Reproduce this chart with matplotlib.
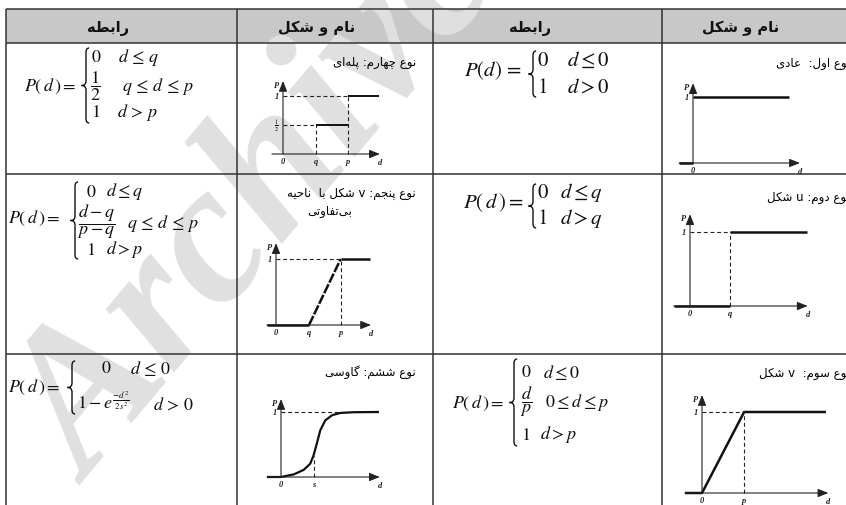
import matplotlib
matplotlib.use("Agg")
import matplotlib.pyplot as plt
import numpy as np
from matplotlib.patches import Rectangle, PathPatch
from matplotlib.path import Path

plt.rcParams["mathtext.fontset"] = "stix"
plt.rcParams["font.family"] = ["DejaVu Sans"]

W, H = 846, 506
nan = np.nan

# ---- data ----
header_relation = "رابطه"
header_shape = "نام و شکل"

name_type1 = "نوع اول:  عادی"
name_type2 = "نوع دوم: u شکل"
name_type3 = "نوع سوم:  v شکل"
name_type4 = "نوع چهارم: پله\u200cای"
name_type5 = ["نوع پنجم: v شکل با  ناحیه", "بی\u200cتفاوتی"]
name_type6 = "نوع ششم: گاوسی"

# curves, in units where the upper level is 1
t1_x = [-0.21, 0.0, nan, 0.0, 1.45]
t1_y = [0, 0, nan, 1, 1]

t2_q = 0.54
t2_x = [-0.22, t2_q, nan, t2_q, 1.58]
t2_y = [0, 0, nan, 1, 1]

t3_p = 0.52
t3_x = [-0.21, 0.0, t3_p, 1.53]
t3_y = [0, 0, 1, 1]

t4_q, t4_p = 0.57, 1.12
t4_x = [t4_q, t4_p, nan, t4_p, 1.66]
t4_y = [0.5, 0.5, nan, 1, 1]

t5_q, t5_p = 0.50, 0.98
t5_x = [-0.14, t5_q, nan, t5_p, 1.42]
t5_y = [0, 0, nan, 1, 1]

t6_s = 0.50
t6_x = [-0.20, 0.0, 0.195, 0.35, 0.45, 0.50, 0.55, 0.605, 0.68, 0.785, 0.91, 1.12, 1.49]
t6_y = [0, 0, 0.04, 0.11, 0.205, 0.33, 0.51, 0.72, 0.87, 0.95, 0.985, 0.997, 1.0]

# ---- Persian shaping (presentation forms + visual order) ----
FORMS = {
    "ا": ("\uFE8D", "\uFE8E", None, None),
    "ب": ("\uFE8F", "\uFE90", "\uFE91", "\uFE92"),
    "پ": ("\uFB56", "\uFB57", "\uFB58", "\uFB59"),
    "ت": ("\uFE95", "\uFE96", "\uFE97", "\uFE98"),
    "ج": ("\uFE9D", "\uFE9E", "\uFE9F", "\uFEA0"),
    "چ": ("\uFB7A", "\uFB7B", "\uFB7C", "\uFB7D"),
    "ح": ("\uFEA1", "\uFEA2", "\uFEA3", "\uFEA4"),
    "د": ("\uFEA9", "\uFEAA", None, None),
    "ر": ("\uFEAD", "\uFEAE", None, None),
    "س": ("\uFEB1", "\uFEB2", "\uFEB3", "\uFEB4"),
    "ش": ("\uFEB5", "\uFEB6", "\uFEB7", "\uFEB8"),
    "ط": ("\uFEC1", "\uFEC2", "\uFEC3", "\uFEC4"),
    "ع": ("\uFEC9", "\uFECA", "\uFECB", "\uFECC"),
    "ف": ("\uFED1", "\uFED2", "\uFED3", "\uFED4"),
    "ک": ("\uFB8E", "\uFB8F", "\uFB90", "\uFB91"),
    "گ": ("\uFB92", "\uFB93", "\uFB94", "\uFB95"),
    "ل": ("\uFEDD", "\uFEDE", "\uFEDF", "\uFEE0"),
    "م": ("\uFEE1", "\uFEE2", "\uFEE3", "\uFEE4"),
    "ن": ("\uFEE5", "\uFEE6", "\uFEE7", "\uFEE8"),
    "ه": ("\uFEE9", "\uFEEA", "\uFEEB", "\uFEEC"),
    "و": ("\uFEED", "\uFEEE", None, None),
    "ی": ("\uFBFC", "\uFBFD", "\uFBFE", "\uFBFF"),
}


def fa(text):
    out = []
    for i, ch in enumerate(text):
        if ch == "\u200c":
            continue
        if ch not in FORMS:
            out.append(ch)
            continue
        prev = text[i - 1] if i > 0 else ""
        nxt = text[i + 1] if i < len(text) - 1 else ""
        jp = prev in FORMS and FORMS[prev][2] is not None
        jn = FORMS[ch][2] is not None and nxt in FORMS
        f = FORMS[ch]
        out.append(f[3] if jp and jn else f[1] if jp else f[2] if jn else f[0])
    return "".join(reversed(out))


fig = plt.figure(figsize=(W / 100, H / 100), dpi=100)
ax = fig.add_axes([0, 0, 1, 1])
ax.set_xlim(0, W)
ax.set_ylim(H, 0)
ax.axis("off")

LINE = "#333333"

# header band, watermark, grid
ax.add_patch(Rectangle((6, 9.5), 850, 34, facecolor="#c8c8c8", edgecolor="none", zorder=0))
ax.text(90, 486, "Archive", rotation=50, rotation_mode="anchor", ha="left", va="baseline",
        fontsize=145, family="Liberation Serif", weight="bold", style="italic",
        color="#e0e0e0", zorder=1)
for y in [9.5, 43.5, 174.5, 355]:
    ax.plot([6, W], [y, y], color=LINE, lw=1.1, zorder=3, solid_capstyle="butt")
for x in [6, 237, 433, 662]:
    ax.plot([x, x], [9.5, H], color=LINE, lw=1.1, zorder=3, solid_capstyle="butt")

# headers
for x, s in [(108, header_relation), (317, header_shape), (530, header_relation), (741, header_shape)]:
    ax.text(x, 28, fa(s), ha="center", va="center", fontsize=10.5, weight="bold", color="#111111", zorder=4)

# names
pfs = 8.5
ax.text(416, 62, fa(name_type4), ha="right", va="center", fontsize=pfs, zorder=4)
ax.text(416, 193, fa(name_type5[0]), ha="right", va="center", fontsize=pfs, zorder=4)
ax.text(330, 212, fa(name_type5[1]), ha="center", va="center", fontsize=pfs, zorder=4)
ax.text(416, 372, fa(name_type6), ha="right", va="center", fontsize=pfs, zorder=4)
ax.text(850, 63, fa(name_type1), ha="right", va="center", fontsize=pfs, zorder=4)
ax.text(850, 197, fa(name_type2), ha="right", va="center", fontsize=pfs, zorder=4)
ax.text(850, 373, fa(name_type3), ha="right", va="center", fontsize=pfs, zorder=4)


def brace(x, y0, y1, w=4.5):
    ym = (y0 + y1) / 2
    verts = [(x + w * 0.7, y0), (x, y0), (x, y0 + w),
             (x, ym - w), (x, ym), (x - w, ym),
             (x, ym), (x, ym + w),
             (x, y1 - w), (x, y1), (x + w * 0.7, y1)]
    codes = [Path.MOVETO, Path.CURVE3, Path.CURVE3,
             Path.LINETO, Path.CURVE3, Path.CURVE3,
             Path.CURVE3, Path.CURVE3,
             Path.LINETO, Path.CURVE3, Path.CURVE3]
    ax.add_patch(PathPatch(Path(verts, codes), fill=False, lw=1.0, color="#111111", zorder=4))


def m(x, y, s, fs=13, va="center"):
    ax.text(x, y, s, ha="left", va=va, fontsize=fs, color="#111111", zorder=4)


# row 1, relation of type 4
m(24, 86, r"$P(\,d\,)=$")
brace(86, 49, 124)
m(91, 57, r"$0$")
m(118, 57, r"$d\,\leq\,q$")
m(90, 86, r"$\dfrac{1}{2}$")
m(122, 86, r"$q\,\leq\,d\,\leq\,p$")
m(91, 112, r"$1$")
m(117, 112, r"$d\,>\,p$")

# row 1, relation of type 1
m(464, 71, r"$P(d)\,=$", fs=15)
brace(533, 52, 98)
m(537, 60, r"$0$", fs=15)
m(567, 60, r"$d \leq 0$", fs=15)
m(537, 87, r"$1$", fs=15)
m(567, 87, r"$d > 0$", fs=15)

# row 2, relation of type 5
m(8, 218, r"$P(\,d\,)=$")
brace(75, 183, 260)
m(86, 192, r"$0$")
m(106, 192, r"$d \leq q$")
m(77, 222, r"$\dfrac{d-q}{p-q}$")
m(127, 223, r"$q\,\leq\,d\,\leq\,p$")
m(86, 250, r"$1$")
m(106, 250, r"$d > p$")

# row 2, relation of type 2
m(463, 203, r"$P(\,d\,)=$", fs=15)
brace(533, 185, 229)
m(537, 192, r"$0$", fs=15)
m(560, 192, r"$d \leq q$", fs=15)
m(537, 218, r"$1$", fs=15)
m(560, 218, r"$d > q$", fs=15)

# row 3, relation of type 6
m(8, 387, r"$P(\,d\,)=$")
brace(72, 362, 415)
m(101, 368, r"$0$")
m(130, 368, r"$d\,\leq\,0$")
m(77, 410, r"$1 - e^{\frac{-d^2}{2s^2}}$", va="baseline")
m(153, 405, r"$d\,>\,0$")

# row 3, relation of type 3
m(452, 403, r"$P(\,d\,)=$")
brace(514, 360, 447)
m(521, 372, r"$0$")
m(543, 372, r"$d \leq 0$")
m(520, 402, r"$\dfrac{d}{p}$")
m(545, 403, r"$0 \leq d \leq p$")
m(521, 435, r"$1$")
m(540, 435, r"$d > p$")


# ---- small plots ----
def mini(ox, oy, u, xlo, xtip, ytip):
    x0, x1 = xlo - 0.05, xtip + 0.15
    y0, y1 = -0.35, ytip + 0.1
    left = (ox + x0 * u) / W
    right = (ox + x1 * u) / W
    top = 1 - (oy - y1 * u) / H
    bottom = 1 - (oy - y0 * u) / H
    a = fig.add_axes([left, bottom, right - left, top - bottom])
    a.set_xlim(x0, x1)
    a.set_ylim(y0, y1)
    a.axis("off")
    a.patch.set_visible(False)
    ap = dict(arrowstyle="-|>,head_length=0.7,head_width=0.28", lw=0.8, color="#222222",
              shrinkA=0, shrinkB=0, mutation_scale=9)
    a.annotate("", xy=(xtip, 0), xytext=(xlo, 0), arrowprops=ap)
    a.annotate("", xy=(0, ytip), xytext=(0, 0), arrowprops=ap)
    lab = dict(textcoords="offset points", fontsize=6, family="Liberation Serif",
               style="italic", weight="bold", color="#222222", annotation_clip=False)
    a.annotate("P", xy=(0, ytip), xytext=(-3, -3), ha="right", va="center", **lab)
    a.annotate("0", xy=(0, 0), xytext=(0, -5), ha="center", va="center", **lab)
    a.annotate("d", xy=(xtip, 0), xytext=(0, -6), ha="center", va="center", **lab)
    return a, lab


THICK = dict(color="#111111", lw=1.8, solid_capstyle="butt")
DASH = dict(color="#222222", lw=0.8, linestyle=(0, (3.5, 2.5)))


def tick(a, lab, x, s):
    a.annotate(s, xy=(x, 0), xytext=(0, -5), ha="center", va="center", **lab)


def one(a, lab, s="1"):
    a.annotate(s, xy=(0, 1), xytext=(-3, 0), ha="right", va="center", **lab)


# type 1
a, lab = mini(693, 164, 66, -0.21, 1.62, 1.21)
a.plot(t1_x, t1_y, **THICK)
one(a, lab)

# type 2
a, lab = mini(690, 307, 74, -0.22, 1.59, 1.24)
a.plot(t2_x, t2_y, **THICK)
a.plot([0, t2_q], [1, 1], **DASH)
a.plot([t2_q, t2_q], [0, 1], **DASH)
one(a, lab)
tick(a, lab, t2_q, "q")

# type 3
a, lab = mini(702, 494, 81, -0.21, 1.56, 1.21)
a.plot(t3_x, t3_y, **THICK)
a.plot([0, t3_p], [1, 1], **DASH)
a.plot([t3_p, t3_p], [0, 1], **DASH)
one(a, lab)
tick(a, lab, t3_p, "p")

# type 4
a, lab = mini(283, 155, 58, -0.19, 1.67, 1.26)
a.plot(t4_x, t4_y, color="#111111", lw=1.4, solid_capstyle="butt")
a.plot([0, t4_p], [1, 1], **DASH)
a.plot([0, t4_q], [0.5, 0.5], **DASH)
a.plot([t4_q, t4_q], [0, 0.5], **DASH)
a.plot([t4_p, t4_p], [0, 1], **DASH)
one(a, lab)
a.annotate(r"$\frac{1}{2}$", xy=(0, 0.5), xytext=(-3, 0), ha="right", va="center",
           textcoords="offset points", fontsize=6, annotation_clip=False)
tick(a, lab, t4_q, "q")
tick(a, lab, t4_p, "p")

# type 5
a, lab = mini(276, 326, 66, -0.14, 1.44, 1.24)
a.plot(t5_x, t5_y, **THICK)
a.plot([t5_q, t5_p], [0, 1], color="#111111", lw=1.8, linestyle=(0, (4, 0.7)))
a.plot([0, t5_p], [1, 1], **DASH)
a.plot([t5_p, t5_p], [0, 1], **DASH)
one(a, lab)
tick(a, lab, t5_q, "q")
tick(a, lab, t5_p, "p")

# type 6
a, lab = mini(281, 478, 65, -0.20, 1.52, 1.20)
a.plot([0, t6_x[-1]], [1, 1], **DASH)
a.plot([t6_s, t6_s], [0, np.interp(t6_s, t6_x, t6_y)], **DASH)
a.plot(t6_x, t6_y, color="#111111", lw=1.6, solid_joinstyle="round")
one(a, lab)
tick(a, lab, t6_s, "s")

fig.savefig("out.png", dpi=100)
